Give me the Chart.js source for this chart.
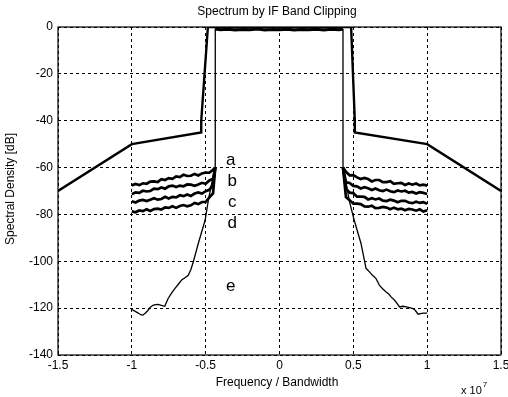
<!DOCTYPE html>
<html>
<head>
<meta charset="utf-8">
<script src="https://cdn.jsdelivr.net/npm/chart.js@4.4.0/dist/chart.umd.min.js"></script>
<style>
    html, body { margin: 0; padding: 0; background: #fff; }
    #wrap { width: 508px; height: 397px; }
</style>
</head>
<body>
<div id="wrap"><canvas id="SpectrumChart"></canvas></div>
<script>
// axis ticks (frequency in units of 10^7)
var xTicks = [-1.5, -1, -0.5, 0, 0.5, 1, 1.5];
var yTicks = [0, -20, -40, -60, -80, -100, -120, -140];

// spectrum mask
var maskFreq = [-1.5, -1.0, -0.53, -0.53, -0.485, 0.485, 0.51, 0.51, 1.0, 1.5];
var maskLevel = [-70, -50, -45, -40, 0, 0, -40, -45, -50, -70];

// band edges and in-band level
var edgeFreq = [-0.435, 0.43];
var edgeJoin = -60;
var inbandFreq = [-0.435, -0.4, -0.35, -0.3, -0.25, -0.2, -0.15, -0.1, -0.05, 0, 0.05, 0.1, 0.15, 0.2, 0.25, 0.3, 0.35, 0.4, 0.43];
var inbandLevel = [-0.9, -1.2, -1.0, -1.3, -1.1, -1.2, -0.9, -1.3, -1.1, -1.2, -1.0, -1.3, -1.1, -1.2, -1.0, -1.3, -1.0, -1.2, -1.0];

// out of band |frequency| for curves a..d
var outerFreq = [0.45, 0.475, 0.5, 0.525, 0.55, 0.575, 0.6, 0.625, 0.65, 0.675, 0.7, 0.725, 0.75, 0.775, 0.8, 0.825, 0.85, 0.875, 0.9, 0.925, 0.95, 0.975, 1.0];

var aLeft  = [-60.9, -62.2, -62.1, -62.5, -63.4, -62.7, -63.5, -63.6, -63.1, -64.1, -63.8, -64.8, -64.5, -65.3, -65.0, -66.2, -65.9, -66.0, -66.9, -66.7, -67.5, -67.0, -67.6];
var bLeft  = [-64.7, -65.5, -66.9, -66.5, -67.2, -67.8, -67.3, -67.2, -68.0, -67.7, -68.3, -67.7, -68.0, -69.0, -68.5, -69.2, -69.0, -70.0, -70.2, -69.9, -70.8, -70.6, -71.4];
var cLeft  = [-67.3, -69.5, -70.1, -71.1, -70.6, -71.1, -72.1, -71.5, -72.2, -71.8, -72.7, -72.5, -73.2, -72.5, -73.4, -73.7, -73.1, -73.7, -74.3, -73.8, -74.1, -74.9, -74.4];
var dLeft  = [-71.0, -72.7, -74.7, -74.7, -75.6, -75.1, -76.1, -76.5, -76.0, -76.4, -77.2, -76.5, -77.2, -77.0, -77.9, -77.5, -77.7, -78.5, -77.8, -78.6, -78.3, -79.1, -78.7];

var aRight = [-61.8, -63.3, -63.2, -64.2, -64.9, -64.4, -64.9, -65.9, -65.3, -65.3, -66.2, -66.2, -65.8, -66.9, -66.7, -66.5, -67.4, -66.8, -67.3, -66.8, -67.6, -67.3, -67.7];
var bRight = [-66.3, -66.6, -67.8, -68.0, -68.9, -68.4, -68.8, -69.6, -68.9, -69.7, -70.0, -69.4, -70.1, -70.5, -69.8, -70.2, -69.9, -70.7, -70.4, -71.1, -70.5, -70.8, -71.3];
var cRight = [-69.0, -70.7, -70.9, -72.4, -72.4, -72.5, -73.6, -73.1, -73.6, -73.2, -74.1, -74.3, -73.7, -74.1, -74.8, -74.2, -74.2, -74.9, -75.2, -74.6, -75.1, -74.8, -75.5];
var dRight = [-72.6, -73.9, -75.4, -75.4, -75.6, -76.6, -76.7, -76.3, -77.3, -77.2, -76.8, -77.1, -77.8, -77.1, -77.8, -77.5, -78.2, -77.6, -77.9, -78.4, -77.8, -78.8, -78.2];

// curve e
var eLeftFreq  = [-1.0, -0.98, -0.959, -0.94, -0.925, -0.91, -0.891, -0.875, -0.857, -0.84, -0.823, -0.8, -0.777, -0.755, -0.73, -0.709, -0.685, -0.663, -0.64, -0.618, -0.6, -0.584, -0.55, -0.504, -0.482, -0.46, -0.435];
var eLeftLevel = [-120.6, -121.3, -122.0, -122.8, -123.0, -122.2, -121.0, -119.6, -118.8, -118.5, -118.4, -118.8, -119.2, -116.0, -113.5, -111.7, -109.8, -108.0, -107.0, -106.0, -103.5, -100.3, -92.4, -82.5, -74.0, -67.0, -60.0];
var eRightFreq  = [0.43, 0.45, 0.472, 0.506, 0.552, 0.586, 0.609, 0.63, 0.654, 0.677, 0.7, 0.722, 0.74, 0.757, 0.775, 0.79, 0.813, 0.835, 0.859, 0.88, 0.904, 0.92, 0.939, 0.955, 0.973, 1.0];
var eRightLevel = [-60.0, -66.0, -74.0, -82.5, -92.4, -103.0, -104.5, -106.0, -107.4, -110.3, -111.8, -113.1, -114.0, -115.3, -116.3, -117.4, -119.5, -119.2, -119.5, -119.8, -120.2, -121.0, -122.6, -122.3, -122.1, -122.1];

// curve labels
var curveNames = ['a', 'b', 'c', 'd', 'e'];
var labelFreq = [-0.33, -0.32, -0.32, -0.32, -0.33];
var labelLevel = [-56.8, -65.7, -74.7, -83.7, -110.5];

var FONT = "'Liberation Sans', Arial, sans-serif";

function pairUp(xs, ys) {
    return xs.map(function (x, i) { return { x: x, y: ys[i] }; });
}

function OuterCurve(left, right) {
    var pts = [];
    for (var i = outerFreq.length - 1; i >= 0; i--) pts.push({ x: -outerFreq[i], y: left[i] });
    pts.push({ x: edgeFreq[0], y: edgeJoin });
    pts.push({ x: 0, y: null });
    pts.push({ x: edgeFreq[1], y: edgeJoin });
    for (var j = 0; j < outerFreq.length; j++) pts.push({ x: outerFreq[j], y: right[j] });
    return pts;
}

function CurveE() {
    return pairUp(eLeftFreq, eLeftLevel)
        .concat([{ x: edgeFreq[0], y: inbandLevel[0] }, { x: edgeFreq[1], y: inbandLevel[inbandLevel.length - 1] }])
        .concat(pairUp(eRightFreq, eRightLevel));
}

function lineSet(data, width) {
    return {
        data: data,
        borderColor: '#000',
        borderWidth: width,
        pointRadius: 0,
        tension: 0,
        spanGaps: false
    };
}

var textPlugin = {
    id: 'texts',
    afterDraw: function (chart) {
        var ctx = chart.ctx, area = chart.chartArea;
        var xs = chart.scales.x, ys = chart.scales.y;
        ctx.save();
        // frame
        ctx.strokeStyle = '#000';
        ctx.lineWidth = 1.2;
        ctx.strokeRect(area.left, area.top, area.right - area.left, area.bottom - area.top);

        ctx.fillStyle = '#000';
        ctx.textAlign = 'center';
        ctx.textBaseline = 'middle';
        ctx.font = '12px ' + FONT;
        ctx.fillText('Spectrum by IF Band Clipping', 277, 12);
        ctx.fillText('Frequency / Bandwidth', 277, 383);

        ctx.save();
        ctx.translate(11, 189);
        ctx.rotate(-Math.PI / 2);
        ctx.fillText('Spectral Density [dB]', 0, 0);
        ctx.restore();

        ctx.textAlign = 'left';
        ctx.textBaseline = 'alphabetic';
        ctx.font = '11px ' + FONT;
        ctx.fillText('x 10', 461, 394);
        var w = ctx.measureText('x 10').width;
        ctx.font = '8px ' + FONT;
        ctx.fillText('7', 461 + w + 1, 387);

        ctx.textAlign = 'center';
        ctx.textBaseline = 'middle';
        ctx.font = '17px ' + FONT;
        curveNames.forEach(function (name, i) {
            ctx.fillText(name, xs.getPixelForValue(labelFreq[i]), ys.getPixelForValue(labelLevel[i]));
        });
        ctx.restore();
    }
};

function InitializeChart() {
    Chart.defaults.font.family = FONT;
    Chart.defaults.font.size = 12;
    Chart.defaults.color = '#000';

    var datasets = [
        lineSet(pairUp(maskFreq, maskLevel), 2.4),
        lineSet(OuterCurve(aLeft, aRight), 2.7),
        lineSet(OuterCurve(bLeft, bRight), 2.7),
        lineSet(OuterCurve(cLeft, cRight), 2.7),
        lineSet(OuterCurve(dLeft, dRight), 2.7),
        lineSet(CurveE(), 1.3),
        lineSet(pairUp(inbandFreq, inbandLevel), 3)
    ];

    new Chart(document.getElementById('SpectrumChart'), {
        type: 'line',
        data: { datasets: datasets },
        options: {
            responsive: true,
            maintainAspectRatio: false,
            animation: false,
            layout: { padding: { top: 27, right: 7, bottom: 0, left: 0 } },
            plugins: { legend: { display: false }, tooltip: { enabled: false } },
            scales: {
                x: {
                    type: 'linear',
                    min: -1.5,
                    max: 1.5,
                    afterBuildTicks: function (scale) {
                        scale.ticks = xTicks.map(function (v) { return { value: v }; });
                    },
                    afterFit: function (scale) {
                        scale.height = 42;
                        scale.paddingLeft = 0;
                        scale.paddingRight = 0;
                    },
                    ticks: {
                        padding: 3,
                        maxRotation: 0,
                        callback: function (v) { return String(v); }
                    },
                    grid: { color: '#000', lineWidth: 1, drawTicks: false },
                    border: { display: false, dash: [3, 3] }
                },
                y: {
                    type: 'linear',
                    min: -140,
                    max: 0,
                    afterBuildTicks: function (scale) {
                        scale.ticks = yTicks.map(function (v) { return { value: v }; });
                    },
                    afterFit: function (scale) {
                        scale.width = 58;
                    },
                    ticks: {
                        padding: 5,
                        callback: function (v) { return String(v); }
                    },
                    grid: { color: '#000', lineWidth: 1, drawTicks: false },
                    border: { display: false, dash: [3, 3] }
                }
            }
        },
        plugins: [textPlugin]
    });
}

InitializeChart();
</script>
</body>
</html>
